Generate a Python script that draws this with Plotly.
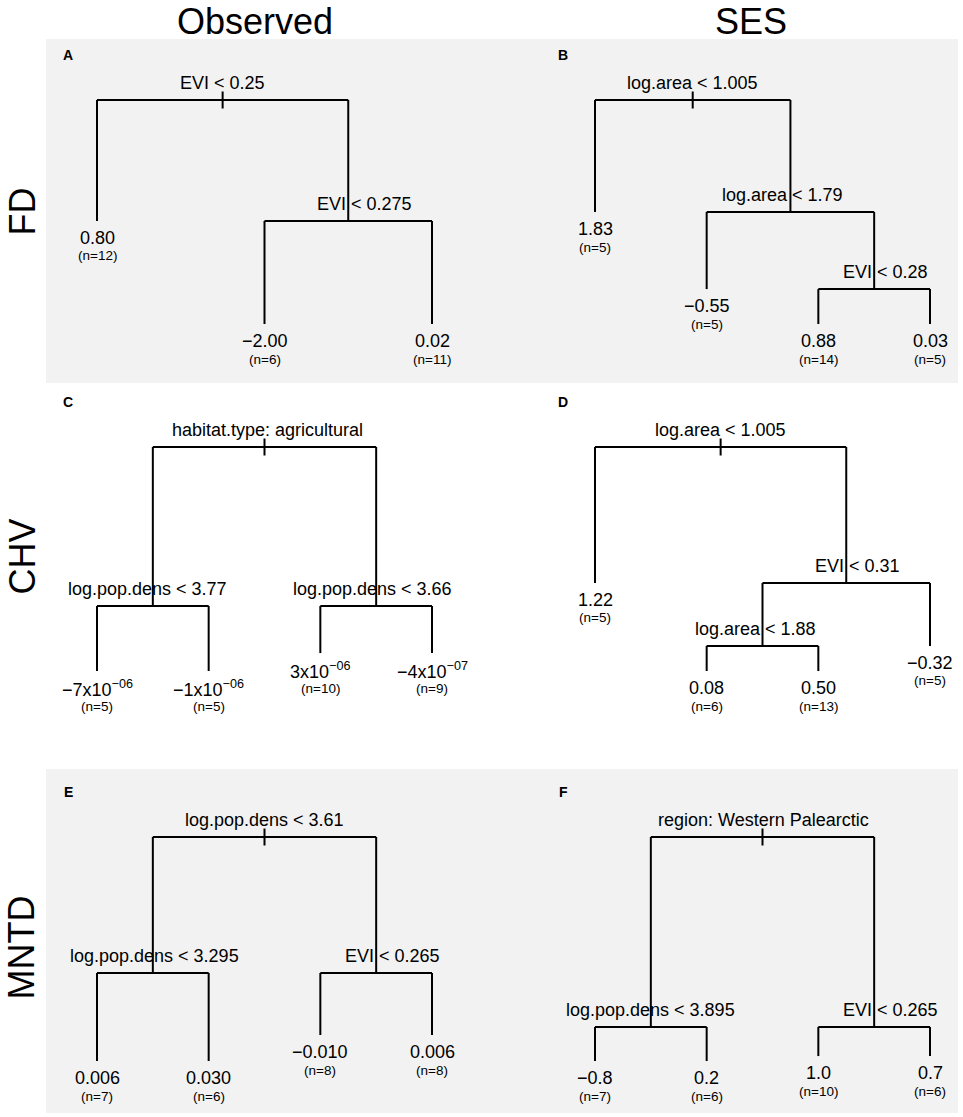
import plotly.graph_objects as go

# ---- tree data (node label, parent index, leaf size n, node depth 0=root .. 1=deepest leaf)
A_labels = ["EVI < 0.25", "0.80", "EVI < 0.275", "−2.00", "0.02"]
A_parents = [None, 0, 0, 2, 2]
A_n = [None, 12, None, 6, 11]
A_depth = [0.0, 0.54, 0.54, 1.0, 1.0]

B_labels = ["log.area < 1.005", "1.83", "log.area < 1.79", "−0.55", "EVI < 0.28", "0.88", "0.03"]
B_parents = [None, 0, 0, 2, 2, 4, 4]
B_n = [None, 5, None, 5, None, 14, 5]
B_depth = [0.0, 0.50, 0.50, 0.844, 0.844, 1.0, 1.0]

C_labels = ["habitat.type: agricultural", "log.pop.dens < 3.77", "−7x10<sup>−06</sup>",
            "−1x10<sup>−06</sup>", "log.pop.dens < 3.66", "3x10<sup>−06</sup>", "−4x10<sup>−07</sup>"]
C_parents = [None, 0, 1, 1, 0, 4, 4]
C_n = [None, None, 5, 5, None, 10, 9]
C_depth = [0.0, 0.71, 1.0, 1.0, 0.71, 0.92, 0.92]

D_labels = ["log.area < 1.005", "1.22", "EVI < 0.31", "log.area < 1.88", "0.08", "0.50", "−0.32"]
D_parents = [None, 0, 0, 2, 3, 3, 2]
D_n = [None, 5, None, None, 6, 13, 5]
D_depth = [0.0, 0.607, 0.607, 0.888, 1.0, 1.0, 0.888]

E_labels = ["log.pop.dens < 3.61", "log.pop.dens < 3.295", "0.006", "0.030", "EVI < 0.265", "−0.010", "0.006"]
E_parents = [None, 0, 1, 1, 0, 4, 4]
E_n = [None, None, 7, 6, None, 8, 8]
E_depth = [0.0, 0.607, 1.0, 1.0, 0.607, 0.884, 0.884]

F_labels = ["region: Western Palearctic", "log.pop.dens < 3.895", "−0.8", "0.2", "EVI < 0.265", "1.0", "0.7"]
F_parents = [None, 0, 1, 1, 0, 4, 4]
F_n = [None, None, 7, 6, None, 10, 6]
F_depth = [0.0, 0.848, 1.0, 1.0, 0.848, 0.978, 0.978]

col_titles = ["Observed", "SES"]
row_titles = ["FD", "CHV", "MNTD"]
panel_letters = ["A", "B", "C", "D", "E", "F"]

panels = [
    (A_labels, A_parents, A_n, A_depth),
    (B_labels, B_parents, B_n, B_depth),
    (C_labels, C_parents, C_n, C_depth),
    (D_labels, D_parents, D_n, D_depth),
    (E_labels, E_parents, E_n, E_depth),
    (F_labels, F_parents, F_n, F_depth),
]

# ---- layout (pixels)
W, H = 963, 1117
col_leaf_px = [(97, 432), (595, 930)]
row_root_px = [100, 447, 837]
tree_px = 224
grey_rows = [(39, 383), (769, 1113)]
# horizontal nudge of split labels (px), internal nodes in order
split_dx = [[0, 16], [0, -8, 11], [3, -5, -4], [0, 11, -7], [0, 2, 16], [1, 0, 16]]

FONT = "Liberation Sans, Arial, sans-serif"
BG = "#f2f2f2"


def txt(**kw):
    d = dict(showarrow=False, xanchor="center", yanchor="middle")
    d.update(kw)
    return d


fig = go.Figure()
annotations = []
layout_axes = {}

for k, (labels, parents, ns, depth) in enumerate(panels):
    r, c = divmod(k, 2)
    children = {i: [] for i in range(len(labels))}
    for i, p in enumerate(parents):
        if p is not None:
            children[p].append(i)

    # leaves evenly spaced, internal nodes at midpoint of their children
    x = {}
    order = []

    def walk(i):
        if children[i]:
            for ch in children[i]:
                walk(ch)
        else:
            order.append(i)

    walk(0)
    for j, i in enumerate(order):
        x[i] = j

    def place(i):
        if i not in x:
            ch = children[i]
            x[i] = (place(ch[0]) + place(ch[-1])) / 2
        return x[i]

    place(0)

    xs, ys = [], []
    for i in range(len(labels)):
        ch = children[i]
        if ch:
            xs += [x[ch[0]], x[ch[-1]], None]
            ys += [depth[i], depth[i], None]
            for cc in ch:
                xs += [x[cc], x[cc], None]
                ys += [depth[i], depth[cc], None]
    tick = 8.5 / tree_px
    xs += [x[0], x[0], None]
    ys += [-tick, tick, None]

    sfx = "" if k == 0 else str(k + 1)
    fig.add_trace(go.Scatter(x=xs, y=ys, mode="lines", xaxis="x" + sfx, yaxis="y" + sfx,
                             line=dict(color="black", width=2), hoverinfo="skip", showlegend=False))

    nleaf = len(order)
    lo, hi = col_leaf_px[c]
    spacing = (hi - lo) / (nleaf - 1)
    pad = 25
    root = row_root_px[r]
    top_pad, bot_pad = 40, 15
    layout_axes["xaxis" + sfx] = dict(domain=[(lo - pad) / W, (hi + pad) / W],
                                      range=[-pad / spacing, nleaf - 1 + pad / spacing],
                                      visible=False, fixedrange=True, anchor="y" + sfx)
    layout_axes["yaxis" + sfx] = dict(domain=[1 - (root + tree_px + bot_pad) / H, 1 - (root - top_pad) / H],
                                      range=[(tree_px + bot_pad) / tree_px, -top_pad / tree_px],
                                      visible=False, fixedrange=True, anchor="x" + sfx)

    internal = [i for i in range(len(labels)) if children[i]]
    for m, i in enumerate(internal):
        annotations.append(txt(x=x[i], y=depth[i], xref="x" + sfx, yref="y" + sfx,
                               text=labels[i], xshift=split_dx[k][m], yshift=17,
                               font=dict(size=18, color="black", family=FONT)))
    for i in order:
        annotations.append(txt(x=x[i], y=depth[i], xref="x" + sfx, yref="y" + sfx,
                               text=labels[i], yshift=-17,
                               font=dict(size=18, color="black", family=FONT)))
        annotations.append(txt(x=x[i], y=depth[i], xref="x" + sfx, yref="y" + sfx,
                               text="(n=%d)" % ns[i], yshift=-35,
                               font=dict(size=13.5, color="black", family=FONT)))

    # panel letter
    annotations.append(txt(x=(68 + 495 * c) / W, y=1 - (row_root_px[r] - 45) / H, xref="paper", yref="paper",
                           text="<b>%s</b>" % panel_letters[k],
                           font=dict(size=14, color="black", family=FONT)))

for c, t in enumerate(col_titles):
    annotations.append(txt(x=[255, 751][c] / W, y=1, yanchor="top", xref="paper", yref="paper", text=t,
                           borderpad=0, font=dict(size=36, color="black", family=FONT)))
for r, t in enumerate(row_titles):
    annotations.append(txt(x=0, xanchor="left", y=1 - [212, 557, 948][r] / H, xref="paper", yref="paper",
                           text=t, borderpad=0, textangle=-90,
                           font=dict(size=36, color="black", family=FONT)))

shapes = [dict(type="rect", xref="paper", yref="paper", x0=46 / W, x1=958 / W,
               y0=1 - b / H, y1=1 - t / H, fillcolor=BG, line=dict(width=0), layer="below")
          for t, b in grey_rows]

fig.update_layout(width=W, height=H, margin=dict(l=0, r=0, t=0, b=0),
                  paper_bgcolor="white", plot_bgcolor="rgba(0,0,0,0)",
                  annotations=annotations, shapes=shapes, showlegend=False, **layout_axes)

fig.write_html("out.html", config={"displayModeBar": False},
               post_script="document.body.style.margin='0px';document.body.style.overflow='hidden';")
